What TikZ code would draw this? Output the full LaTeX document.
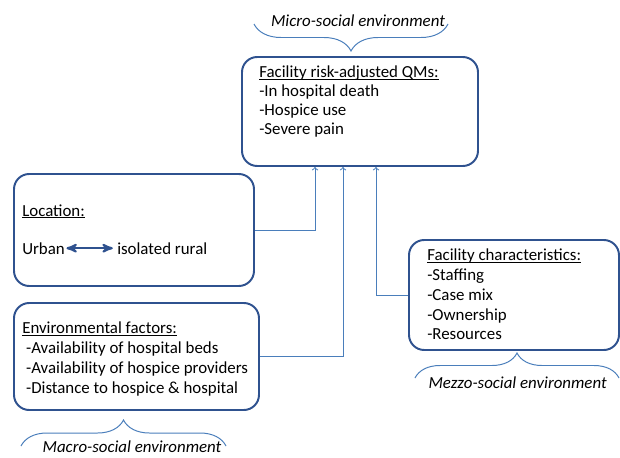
\documentclass[tikz,border=0pt]{standalone}
\usepackage{fontspec}
\setmainfont{Carlito}
\usepackage{tikz}
\usetikzlibrary{arrows,calc,decorations.pathreplacing}
\definecolor{boxblue}{RGB}{47,82,143}
\definecolor{linkblue}{RGB}{74,126,187}
\newcommand{\ulinetext}[1]{\setbox0\hbox{#1}\rlap{\rule[-1.6pt]{\wd0}{0.55pt}}\box0}

\begin{document}
\begin{tikzpicture}[auto,
  box node/.style={draw=boxblue,line width=1.4pt,rounded corners=0.38cm},
  text node/.style={anchor=north west,align=left,inner sep=0pt,font=\fontsize{12}{13.6}\selectfont},
  word node/.style={anchor=base west,inner sep=0pt,font=\fontsize{12}{13.6}\selectfont},
  env node/.style={anchor=base,inner sep=0pt,font=\fontsize{12}{13.6}\selectfont\itshape},
  link/.style={->,draw=linkblue,line width=0.7pt},
  bracket/.style={draw=linkblue,line width=0.7pt,decorate,decoration={brace,amplitude=#1}}]
\useasboundingbox (0,0) rectangle (15.5,-11.425);

\node[box node,minimum width=5.9cm,minimum height=2.725cm](QM) at (9.0,-2.7875) {};
\node[box node,minimum width=6.0cm,minimum height=2.8cm](Loc) at (3.35,-5.75) {};
\node[box node,minimum width=6.125cm,minimum height=2.675cm](Env) at (3.4125,-8.9125) {};
\node[box node,minimum width=5.25cm,minimum height=2.75cm](Fac) at (12.85,-7.375) {};

\node[text node](QMtext) at ($(QM.north west)+(0.45,-0.24)$)
  {\ulinetext{Facility risk-adjusted QMs:}\\-In hospital death\\-Hospice use\\-Severe pain};
\node[word node](Loct) at (0.55,-5.4) {\ulinetext{Location:}};
\node[word node](Urb) at (0.55,-6.35) {Urban};
\node[word node](Rur) at (2.925,-6.35) {isolated rural};
\node[text node,font=\fontsize{12}{14.4}\selectfont](Envtext) at ($(Env.north west)+(0.225,-0.48)$)
  {\ulinetext{Environmental factors:}\\\ -Availability of hospital beds\\\ -Availability of hospice providers\\\ -Distance to hospice \& hospital};
\node[text node,font=\fontsize{12}{14.1}\selectfont](Factext) at ($(Fac.north west)+(0.475,-0.24)$)
  {\ulinetext{Facility characteristics:}\\-Staffing\\-Case mix\\-Ownership\\-Resources};

\node[env node](Micro) at (8.95,-0.65) {Micro-social environment};
\node[env node](Macro) at (3.3,-11.3) {Macro-social environment};
\node[env node](Mezzo) at (12.94,-9.7) {Mezzo-social environment};

\coordinate (Q1) at ($(QM.south)+(-1.125,0)$);
\coordinate (Q2) at ($(QM.south)+(-0.425,0)$);
\coordinate (Q3) at ($(QM.south)+(0.4,0)$);

\path
(Urb) edge[<->,>=stealth',draw=boxblue,line width=1.5pt,shorten <=1pt,shorten >=3pt] (Rur);

\draw[link] (Loc.east) -| (Q1);
\draw[link] (Env.east) -| (Q2);
\draw[link] (Fac.west) -| (Q3);

% braces
\draw[bracket=0.675cm] (11.2,-0.6) -- (6.35,-0.6);
\draw[bracket=0.65cm] (0.525,-11.15) -- (5.65,-11.15);
\draw[bracket=0.625cm] (10.375,-9.45) -- (15.475,-9.45);

\end{tikzpicture}
\end{document}
